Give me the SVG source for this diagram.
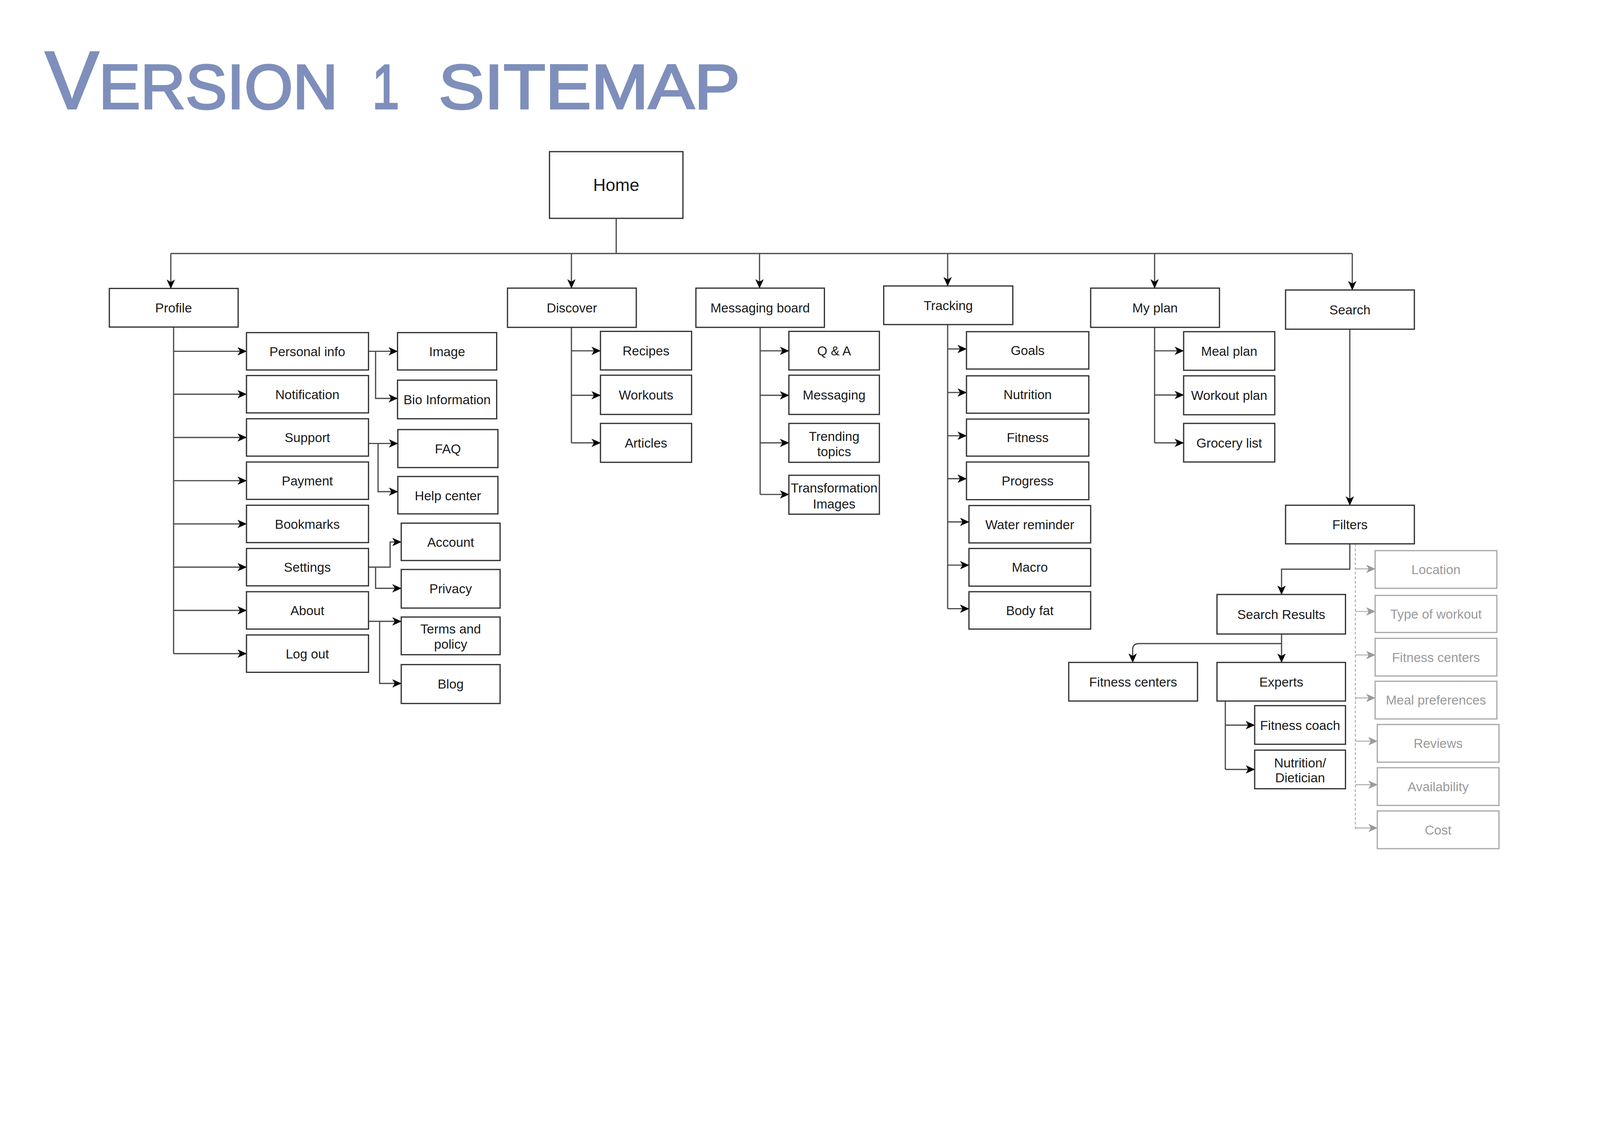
<svg xmlns="http://www.w3.org/2000/svg" width="5180" height="2901" viewBox="0 0 5180 2901" preserveAspectRatio="xMidYMin meet" style="width:100%;height:100%">
<style>
.bx{fill:#fff;stroke:#333;stroke-width:4}
.gbx{fill:#fff;stroke:#aaa;stroke-width:4}
.t{font-family:"Liberation Sans",Arial,Helvetica,sans-serif;font-size:42px;fill:#1a1a1a;text-anchor:middle}
.gt{font-family:"Liberation Sans",Arial,Helvetica,sans-serif;font-size:42px;fill:#9a9a9a;text-anchor:middle}
.ln{fill:none;stroke:#4d4d4d;stroke-width:4}
.la{fill:none;stroke:#4d4d4d;stroke-width:4;marker-end:url(#ar)}
.gl{fill:none;stroke:#aaa;stroke-width:3;stroke-dasharray:9 6}
.ga{fill:none;stroke:#aaa;stroke-width:3;marker-end:url(#gar)}
.title{font-family:"Liberation Sans",Arial,sans-serif;fill:#7f8fbb;stroke:#7f8fbb;stroke-width:6;font-size:205px}
</style>
<defs>
<marker id="ar" markerUnits="userSpaceOnUse" viewBox="0 0 30 27" markerWidth="30" markerHeight="27" refX="29" refY="13.5" orient="auto">
<path d="M0,0 L30,13.5 L0,27 L8,13.5 Z" fill="#000"/>
</marker>
<marker id="gar" markerUnits="userSpaceOnUse" viewBox="0 0 30 27" markerWidth="30" markerHeight="27" refX="29" refY="13.5" orient="auto">
<path d="M0,0 L30,13.5 L0,27 L8,13.5 Z" fill="#9a9a9a"/>
</marker>
</defs>
<rect width="5180" height="2901" fill="#fff"/>

<text class="title" y="352"><tspan x="146" textLength="948" lengthAdjust="spacingAndGlyphs"><tspan font-size="265">V</tspan>ERSION</tspan> <tspan x="1205" textLength="88" lengthAdjust="spacingAndGlyphs">1</tspan> <tspan x="1420" textLength="976" lengthAdjust="spacingAndGlyphs">SITEMAP</tspan></text>

<g id="connectors">
<path class="ln" d="M1995,707 V821"/>
<path class="ln" d="M553,821 H4378"/>
<path class="la" d="M553,821 V934"/>
<path class="la" d="M1850,821 V933"/>
<path class="la" d="M2459,821 V933"/>
<path class="la" d="M3068,821 V926"/>
<path class="la" d="M3738,821 V933"/>
<path class="la" d="M4378,821 V939"/>

<path class="ln" d="M562,1059 V2116.5"/>
<path class="la" d="M562,1137.5 H798"/>
<path class="la" d="M562,1276.5 H798"/>
<path class="la" d="M562,1416.5 H798"/>
<path class="la" d="M562,1556.5 H798"/>
<path class="la" d="M562,1696.5 H798"/>
<path class="la" d="M562,1836.5 H798"/>
<path class="la" d="M562,1976.5 H798"/>
<path class="la" d="M562,2116.5 H798"/>

<path class="la" d="M1193,1137.5 H1287"/>
<path class="la" d="M1216,1137.5 V1290 H1287"/>
<path class="la" d="M1193,1436 H1288"/>
<path class="la" d="M1224,1436 V1592 H1288"/>
<path class="la" d="M1193,1836.5 H1263 V1755 H1299"/>
<path class="la" d="M1216,1836.5 V1905 H1299"/>
<path class="la" d="M1193,2012 H1299"/>
<path class="la" d="M1229,2012 V2213 H1299"/>

<path class="ln" d="M1850,1060 V1434"/>
<path class="la" d="M1850,1136 H1944"/>
<path class="la" d="M1850,1280 H1944"/>
<path class="la" d="M1850,1434 H1944"/>

<path class="ln" d="M2461,1060 V1601"/>
<path class="la" d="M2461,1136 H2554"/>
<path class="la" d="M2461,1280 H2554"/>
<path class="la" d="M2461,1434 H2554"/>
<path class="la" d="M2461,1601 H2554"/>

<path class="ln" d="M3068,1051 V1971"/>
<path class="la" d="M3068,1130 H3129"/>
<path class="la" d="M3068,1271 H3129"/>
<path class="la" d="M3068,1411 H3129"/>
<path class="la" d="M3068,1550 H3129"/>
<path class="la" d="M3068,1690 H3137"/>
<path class="la" d="M3068,1830 H3137"/>
<path class="la" d="M3068,1971 H3137"/>

<path class="ln" d="M3738,1060 V1434"/>
<path class="la" d="M3738,1136 H3832"/>
<path class="la" d="M3738,1279 H3832"/>
<path class="la" d="M3738,1434 H3832"/>

<path class="la" d="M4370,1066 V1636"/>
<path class="la" d="M4370,1761 V1843 H4149 V1925"/>
<path class="la" d="M4149,2053 V2145"/>
<path class="la" d="M4149,2084 H3687 Q3667,2084 3667,2104 V2145"/>
<path class="ln" d="M3967,2270 V2491.5"/>
<path class="la" d="M3967,2348 H4062"/>
<path class="la" d="M3967,2491.5 H4062"/>

<path class="gl" d="M4388,1761 V2687"/>
<path class="ga" d="M4388,1842 H4452"/>
<path class="ga" d="M4388,1980 H4452"/>
<path class="ga" d="M4388,2121 H4452"/>
<path class="ga" d="M4388,2260 H4452"/>
<path class="ga" d="M4388,2400 H4459"/>
<path class="ga" d="M4388,2541 H4459"/>
<path class="ga" d="M4388,2681 H4459"/>
</g>

<g id="home"><rect class="bx" x="1779" y="491" width="432" height="216"/><text class="t" x="1995" y="619" style="font-size:56px">Home</text></g>

<g id="profile"><rect class="bx" x="354" y="934" width="417" height="125"/><text class="t" x="562" y="1012">Profile</text></g>
<g id="personal-info"><rect class="bx" x="798" y="1077" width="395" height="121"/><text class="t" x="995" y="1153">Personal info</text></g>
<g id="notification"><rect class="bx" x="798" y="1216" width="395" height="121"/><text class="t" x="995" y="1292">Notification</text></g>
<g id="support"><rect class="bx" x="798" y="1356" width="395" height="121"/><text class="t" x="995" y="1432">Support</text></g>
<g id="payment"><rect class="bx" x="798" y="1496" width="395" height="121"/><text class="t" x="995" y="1572">Payment</text></g>
<g id="bookmarks"><rect class="bx" x="798" y="1636" width="395" height="121"/><text class="t" x="995" y="1712">Bookmarks</text></g>
<g id="settings"><rect class="bx" x="798" y="1776" width="395" height="121"/><text class="t" x="995" y="1852">Settings</text></g>
<g id="about"><rect class="bx" x="798" y="1916" width="395" height="121"/><text class="t" x="995" y="1992">About</text></g>
<g id="log-out"><rect class="bx" x="798" y="2056" width="395" height="121"/><text class="t" x="995" y="2132">Log out</text></g>

<g id="image"><rect class="bx" x="1287" y="1077" width="321" height="121"/><text class="t" x="1447.5" y="1153">Image</text></g>
<g id="bio-information"><rect class="bx" x="1287" y="1231" width="321" height="125"/><text class="t" x="1447.5" y="1309">Bio Information</text></g>
<g id="faq"><rect class="bx" x="1288" y="1391" width="324" height="123"/><text class="t" x="1450" y="1468">FAQ</text></g>
<g id="help-center"><rect class="bx" x="1288" y="1543" width="324" height="121"/><text class="t" x="1450" y="1620">Help center</text></g>
<g id="account"><rect class="bx" x="1299" y="1694" width="320" height="121"/><text class="t" x="1459" y="1770">Account</text></g>
<g id="privacy"><rect class="bx" x="1299" y="1844" width="320" height="125"/><text class="t" x="1459" y="1921">Privacy</text></g>
<g id="terms-and-policy"><rect class="bx" x="1299" y="1998" width="320" height="122"/><text class="t" x="1459" y="2051">Terms and</text><text class="t" x="1459" y="2101">policy</text></g>
<g id="blog"><rect class="bx" x="1299" y="2152" width="320" height="126"/><text class="t" x="1459" y="2230">Blog</text></g>

<g id="discover"><rect class="bx" x="1643" y="933" width="417" height="127"/><text class="t" x="1851.5" y="1012">Discover</text></g>
<g id="recipes"><rect class="bx" x="1944" y="1073" width="295" height="125"/><text class="t" x="2091.5" y="1151">Recipes</text></g>
<g id="workouts"><rect class="bx" x="1944" y="1215" width="295" height="127"/><text class="t" x="2091.5" y="1294">Workouts</text></g>
<g id="articles"><rect class="bx" x="1944" y="1371" width="295" height="126"/><text class="t" x="2091.5" y="1449">Articles</text></g>

<g id="messaging-board"><rect class="bx" x="2253" y="933" width="416" height="127"/><text class="t" x="2461" y="1012">Messaging board</text></g>
<g id="qa"><rect class="bx" x="2554" y="1073" width="293" height="125"/><text class="t" x="2700.5" y="1151">Q &amp; A</text></g>
<g id="messaging"><rect class="bx" x="2554" y="1215" width="293" height="127"/><text class="t" x="2700.5" y="1294">Messaging</text></g>
<g id="trending-topics"><rect class="bx" x="2554" y="1371" width="293" height="126"/><text class="t" x="2700.5" y="1428">Trending</text><text class="t" x="2700.5" y="1477">topics</text></g>
<g id="transformation-images"><rect class="bx" x="2554" y="1539" width="293" height="126"/><text class="t" x="2700.5" y="1595">Transformation</text><text class="t" x="2700.5" y="1646">Images</text></g>

<g id="tracking"><rect class="bx" x="2861" y="926" width="418" height="125"/><text class="t" x="3070" y="1004">Tracking</text></g>
<g id="goals"><rect class="bx" x="3129" y="1074" width="396" height="121"/><text class="t" x="3327" y="1150">Goals</text></g>
<g id="nutrition"><rect class="bx" x="3129" y="1217" width="396" height="121"/><text class="t" x="3327" y="1293">Nutrition</text></g>
<g id="fitness"><rect class="bx" x="3129" y="1357" width="396" height="120"/><text class="t" x="3327" y="1432">Fitness</text></g>
<g id="progress"><rect class="bx" x="3129" y="1496" width="396" height="122"/><text class="t" x="3327" y="1572">Progress</text></g>
<g id="water-reminder"><rect class="bx" x="3137" y="1637" width="394" height="121"/><text class="t" x="3334" y="1713">Water reminder</text></g>
<g id="macro"><rect class="bx" x="3137" y="1776" width="394" height="122"/><text class="t" x="3334" y="1852">Macro</text></g>
<g id="body-fat"><rect class="bx" x="3137" y="1916" width="394" height="121"/><text class="t" x="3334" y="1992">Body fat</text></g>

<g id="my-plan"><rect class="bx" x="3531" y="933" width="417" height="127"/><text class="t" x="3739.5" y="1012">My plan</text></g>
<g id="meal-plan"><rect class="bx" x="3832" y="1074" width="295" height="125"/><text class="t" x="3979.5" y="1152">Meal plan</text></g>
<g id="workout-plan"><rect class="bx" x="3832" y="1217" width="295" height="126"/><text class="t" x="3979.5" y="1295">Workout plan</text></g>
<g id="grocery-list"><rect class="bx" x="3832" y="1371" width="295" height="125"/><text class="t" x="3979.5" y="1449">Grocery list</text></g>

<g id="search"><rect class="bx" x="4162" y="939" width="417" height="127"/><text class="t" x="4370.5" y="1018">Search</text></g>
<g id="filters"><rect class="bx" x="4162" y="1636" width="417" height="125"/><text class="t" x="4370.5" y="1714">Filters</text></g>
<g id="search-results"><rect class="bx" x="3940" y="1925" width="416" height="128"/><text class="t" x="4148" y="2005">Search Results</text></g>
<g id="fitness-centers"><rect class="bx" x="3460" y="2145" width="417" height="125"/><text class="t" x="3668.5" y="2223">Fitness centers</text></g>
<g id="experts"><rect class="bx" x="3940" y="2145" width="416" height="125"/><text class="t" x="4148" y="2223">Experts</text></g>
<g id="fitness-coach"><rect class="bx" x="4062" y="2285" width="294" height="125"/><text class="t" x="4209" y="2363">Fitness coach</text></g>
<g id="nutrition-dietician"><rect class="bx" x="4062" y="2429" width="294" height="125"/><text class="t" x="4209" y="2485">Nutrition/</text><text class="t" x="4209" y="2533">Dietician</text></g>

<g id="f-location"><rect class="gbx" x="4452" y="1783" width="394" height="122"/><text class="gt" x="4649" y="1859">Location</text></g>
<g id="f-type-of-workout"><rect class="gbx" x="4452" y="1928" width="394" height="120"/><text class="gt" x="4649" y="2003">Type of workout</text></g>
<g id="f-fitness-centers"><rect class="gbx" x="4452" y="2067" width="394" height="122"/><text class="gt" x="4649" y="2143">Fitness centers</text></g>
<g id="f-meal-preferences"><rect class="gbx" x="4452" y="2206" width="394" height="122"/><text class="gt" x="4649" y="2282">Meal preferences</text></g>
<g id="f-reviews"><rect class="gbx" x="4459" y="2346" width="394" height="122"/><text class="gt" x="4656" y="2422">Reviews</text></g>
<g id="f-availability"><rect class="gbx" x="4459" y="2486" width="394" height="122"/><text class="gt" x="4656" y="2562">Availability</text></g>
<g id="f-cost"><rect class="gbx" x="4459" y="2626" width="394" height="122"/><text class="gt" x="4656" y="2702">Cost</text></g>
</svg>
